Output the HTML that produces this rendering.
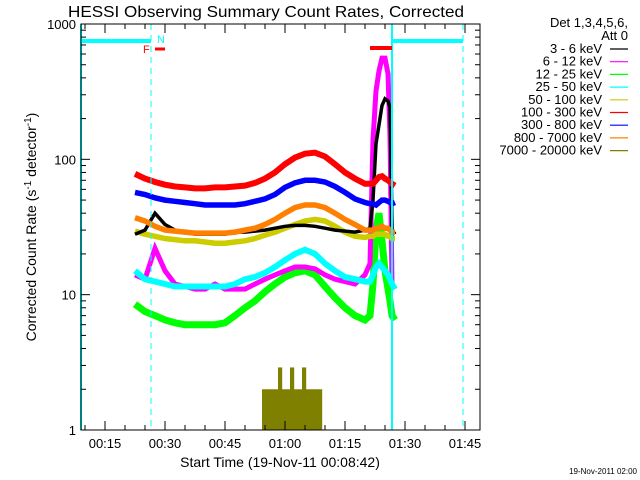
<!DOCTYPE html>
<html><head><meta charset="utf-8"><style>
body{margin:0;background:#fff;}
svg{display:block;font-family:"Liberation Sans",sans-serif;}
</style></head><body>
<svg id="chart" width="640" height="480" viewBox="0 0 640 480" xmlns="http://www.w3.org/2000/svg">
<rect width="640" height="480" fill="#fff"/>
<text x="266" y="17" font-size="16" text-anchor="middle" fill="#000" textLength="396" lengthAdjust="spacingAndGlyphs">HESSI Observing Summary Count Rates, Corrected</text>
<g id="plot"></g>
<g id="axes"></g>
<g id="legend"></g>
<text x="280" y="467" font-size="14" text-anchor="middle">Start Time (19-Nov-11 00:08:42)</text>
<text transform="translate(36,227) rotate(-90)" font-size="14" text-anchor="middle">Corrected Count Rate (s<tspan font-size="10" dy="-5">-1</tspan><tspan dy="5"> detector</tspan><tspan font-size="10" dy="-5">-1</tspan><tspan dy="5">)</tspan></text>
<text x="637" y="474" font-size="8" text-anchor="end">19-Nov-2011 02:00</text>
</svg>
<script>
const xPix = [135,145,155,165,175,185,195,205,215,225,235,245,255,265,275,285,295,305,315,325,335,345,355,365,370,373,376,379,382,385,388,390,392,395];
const times = xPix.map(x => (x-81)/4+9);
const red = [78,72,68,65,63,62,61,61,62,62,63,64,67,72,80,92,103,110,112,105,92,80,72,66,66,66,70,74,75,72,70,68,66,64];
const blue = [57,55,52,50,49,48,47,46,46,46,46,47,49,51,55,62,67,70,70,68,63,57,51,48,47,47,46,48,50,50,49,48,47,48];
const orange = [37,35,32,30,29.5,29,28.5,28.5,28.5,28.5,29,30,31,33,36,40,44,46,46,44,40,36,33,30,30,30,31,31,32,31,31,30,29,29];
const yellow = [29.5,28,27,26,25.5,25,25,24.5,24,24,24.5,25,26,27.5,29,31,33,35,36,35,32,29,27,26.5,27,27,28,28,28,28,27,27,26,26];
const black = [28,30,40,33,30,29,28,28,28,28,29,29,29.5,30,31,32,32.5,32.5,32,31,30,29.5,29,30,31,50,130,180,250,280,270,240,30,28];
const magenta = [14,13,22,15,12,11.5,11,11,12,11,11,11,12,13,14,15,16,16,15.5,14,13,12.5,12,14,17,140,320,450,560,560,430,150,12,11];
const cyan = [15,13,12.5,12,11.5,11.5,11.5,11.5,11.5,11.5,12,13,13.5,14.5,16,18,20,21.5,20,17,15,13.5,13,12.5,12.5,14,16,17,16,15,14,13,12,11];
const green = [8.5,7.5,7,6.5,6.2,6,6,6,6,6.2,7,8,9,10.5,12,13.5,14.5,15,14,11.5,9.5,8,7,6.5,7,12,30,40,25,15,11,9,7,6.5];
const oliveTimes = [54.75,55.75,56.75,57.75,58.75,59.75,60.75,61.75,62.75,63.75,64.75,65.75,66.75,67.75,68.75];
const olive = [2,2,2,2,2.9,2,2,2.9,2,2,2.9,2,2,2,2];
const xTickLabels = ["00:15","00:30","00:45","01:00","01:15","01:30","01:45"];
const xTickTimes = [15,30,45,60,75,90,105];
const yTickLabels = ["1","10","100","1000"];
const yTickVals = [1,10,100,1000];
const legendLabels = ["3 - 6 keV","6 - 12 keV","12 - 25 keV","25 - 50 keV","50 - 100 keV","100 - 300 keV","300 - 800 keV","800 - 7000 keV","7000 - 20000 keV"];
const legendColors = ["#000","#ff00ff","#00ff00","#00ffff","#cccc00","#ff0000","#0000ff","#ff8000","#808000"];

const X0=81,X1=480,Y0=24,Y1=430;
const xS = t => X0 + (t-9)*4;
const yS = v => Y1 - Math.log10(v)*(Y1-Y0)/3;
const NS="http://www.w3.org/2000/svg";
function mk(tag, attrs, parent){const e=document.createElementNS(NS,tag);for(const k in attrs)e.setAttribute(k,attrs[k]);parent.appendChild(e);return e;}
const plot=document.getElementById('plot'), axes=document.getElementById('axes'), legend=document.getElementById('legend');

oliveTimes.forEach((t,i)=>{
  const r=mk('rect',{x:xS(t)-2,y:yS(olive[i]),width:4.2,height:Y1-yS(olive[i]),fill:'#808000'},plot);
  
  
});
const series=[[green,'#00ff00','series-12-25kev',7],[magenta,'#ff00ff','series-6-12kev',5],[cyan,'#00ffff','series-25-50kev',6],[yellow,'#cccc00','series-50-100kev',5.5],[black,'#000','series-3-6kev',3.5],[orange,'#ff8000','series-800-7000kev',5.5],[blue,'#0000ff','series-300-800kev',5.5],[red,'#ff0000','series-100-300kev',6]];
series.forEach(([vals,col,name,w])=>{
  const d=vals.map((v,i)=>(i?'L':'M')+xS(times[i]).toFixed(1)+','+yS(v).toFixed(1)).join(' ');
  const p=mk('path',{d:d,fill:'none',stroke:col,'stroke-width':w,'stroke-linejoin':'miter'},plot);
  
  
});
const m=[
 ['line',{x1:81,y1:24,x2:81,y2:430,stroke:'#00ffff','stroke-width':2},'left-attenuator-line'],
 ['line',{x1:392,y1:24,x2:392,y2:430,stroke:'#00ffff','stroke-width':2},'right-attenuator-line'],
 ['line',{x1:151,y1:24,x2:151,y2:430,stroke:'#00ffff','stroke-width':1,'stroke-dasharray':'6,5'},'night-line-1'],
 ['line',{x1:463,y1:24,x2:463,y2:430,stroke:'#00ffff','stroke-width':1,'stroke-dasharray':'6,5'},'night-line-2'],
 ['line',{x1:81,y1:41,x2:151,y2:41,stroke:'#00ffff','stroke-width':4},'night-bar-1'],
 ['line',{x1:392,y1:41,x2:463,y2:41,stroke:'#00ffff','stroke-width':4},'night-bar-2'],
 ['line',{x1:155,y1:49,x2:165,y2:49,stroke:'#ff0000','stroke-width':3},'flare-bar-1'],
 ['line',{x1:370,y1:48,x2:392,y2:48,stroke:'#ff0000','stroke-width':4},'flare-bar-2']];
m.forEach(([t,a,n])=>{const e=mk(t,a,plot);});
let tf=mk('text',{x:143,y:53,'font-size':11,fill:'#ff0000'},plot);tf.textContent='F';


let tn=mk('text',{x:157,y:43,'font-size':11,fill:'#00ffff'},plot);tn.textContent='N';



const fr=mk('rect',{x:X0,y:Y0,width:X1-X0,height:Y1-Y0,fill:'none',stroke:'#000','stroke-width':1},axes);


for(let t=10;t<=105;t+=5){
  const x=xS(t); const L=(t%15===0)?9:5;
  mk('line',{x1:x,y1:Y1,x2:x,y2:Y1-L,stroke:'#000'},axes);
  mk('line',{x1:x,y1:Y0,x2:x,y2:Y0+L,stroke:'#000'},axes);
}
xTickTimes.forEach((t,i)=>{
  const e=mk('text',{x:xS(t),y:448,'font-size':13,'text-anchor':'middle'},axes);e.textContent=xTickLabels[i];
  
  
});
for(let d=0;d<3;d++)for(let k=1;k<10;k++){
  const v=Math.pow(10,d)*k; const y=yS(v); const L=k===1?9:5;
  mk('line',{x1:X0,y1:y,x2:X0+L,y2:y,stroke:'#000'},axes);
  mk('line',{x1:X1,y1:y,x2:X1-L,y2:y,stroke:'#000'},axes);
}
yTickVals.forEach((v,i)=>{
  const e=mk('text',{x:76,y:yS(v)+5,'font-size':13,'text-anchor':'end'},axes);e.textContent=yTickLabels[i];
  
  
});
let lh=mk('text',{x:628,y:27,'font-size':13,'text-anchor':'end'},legend);lh.textContent='Det 1,3,4,5,6,';


let la=mk('text',{x:628,y:40,'font-size':13,'text-anchor':'end'},legend);la.textContent='Att 0';


legendLabels.forEach((s,i)=>{
  const y=53+i*12.7;
  const g=mk('g',{},legend);
  
  
  const t=mk('text',{x:602,y:y,'font-size':13,'text-anchor':'end',fill:'#000'},g);t.textContent=s;
  mk('line',{x1:610,y1:y-4,x2:628,y2:y-4,stroke:legendColors[i],'stroke-width':1.2},g);
});
</script>
</body></html>
